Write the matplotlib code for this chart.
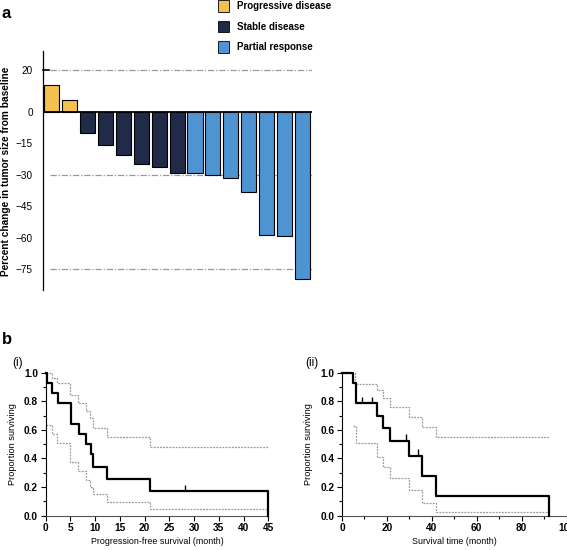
import matplotlib.pyplot as plt
from matplotlib.patches import Rectangle
import numpy as np

plt.rcParams['font.family'] = ['Liberation Sans', 'DejaVu Sans']

# panel a: waterfall
change = [12.6, 5.7, -10.0, -15.6, -20.7, -24.7, -26.4, -29.0, -29.3, -30.3, -31.4, -38.4, -58.9, -59.1, -79.6]
response = ['PD', 'PD', 'SD', 'SD', 'SD', 'SD', 'SD', 'SD', 'PR', 'PR', 'PR', 'PR', 'PR', 'PR', 'PR']
resp_names = {'PD': 'Progressive disease', 'SD': 'Stable disease', 'PR': 'Partial response'}
resp_cols = {'PD': '#F5C04F', 'SD': '#1F2B48', 'PR': '#4E94D2'}
yticks_a = [20, 0, -15, -30, -45, -60, -75]
grid_a = [20, -30, -75]

# panel b(i): progression-free survival
pfs_t = [0, 0.2, 1.2, 2.5, 5.1, 6.7, 8.1, 9.1, 9.5, 12.3, 21.1, 45]
pfs_s = [1.0, 0.929, 0.857, 0.786, 0.643, 0.571, 0.5, 0.429, 0.343, 0.257, 0.171, 0.0]
pfs_cens_t = [28.2]
pfs_cens_s = [0.171]
pfs_ci_t = [0, 1.2, 2.35, 4.9, 6.5, 8.1, 9.0, 9.5, 12.3, 21.1, 45]
pfs_hi = [1.0, 0.963, 0.93, 0.844, 0.79, 0.73, 0.68, 0.615, 0.552, 0.483, 0.483]
pfs_lo = [0.634, 0.571, 0.506, 0.378, 0.312, 0.249, 0.20, 0.149, 0.093, 0.045, 0.045]

# panel b(ii): overall survival
os_t = [0, 4.8, 6.2, 15.4, 18.4, 21.4, 30, 35.5, 41.9, 92]
os_s = [1.0, 0.929, 0.786, 0.699, 0.611, 0.524, 0.419, 0.279, 0.140, 0.0]
os_cens_t = [9.1, 13.5, 28.4, 33.7]
os_cens_s = [0.786, 0.786, 0.524, 0.419]
os_hi_t = [0, 6.0, 15.4, 18.4, 21.4, 30, 35.5, 41.9, 92]
os_hi = [1.0, 0.92, 0.88, 0.82, 0.762, 0.69, 0.62, 0.55, 0.55]
os_lo_t = [5.0, 6.2, 15.4, 18.4, 21.4, 30, 35.5, 41.9, 92]
os_lo = [0.627, 0.506, 0.413, 0.343, 0.26, 0.18, 0.086, 0.025, 0.025]

fig = plt.figure(figsize=(5.67, 5.5), dpi=100)

# ---- a ----
ax = fig.add_axes([0.0753, 0.4727, 0.475, 0.4346])
x = np.arange(len(change))
ax.bar(x, change, width=0.84, color=[resp_cols[r] for r in response],
       edgecolor='black', linewidth=0.8, zorder=3)
for g in grid_a:
    ax.axhline(g, xmin=0.027, xmax=1, color='#999999', lw=0.9, ls=(0, (5, 1.5, 1, 1.5)), zorder=1)
ax.axhline(0, xmin=0.005, xmax=1, color='black', lw=1.3, zorder=4)
ax.plot([-0.51, -0.13], [20, 20], color='black', lw=1.2, clip_on=False)
ax.set_xlim(-0.51, 14.54)
ax.set_ylim(-85, 29)
ax.set_yticks(yticks_a)
ax.tick_params(axis='y', length=0, pad=7, labelsize=7.2)
ax.set_xticks([])
for s in ['top', 'right', 'bottom']:
    ax.spines[s].set_visible(False)
ax.spines['left'].set_linewidth(0.9)
fig.text(0.011, 0.689, 'Percent change in tumor size from baseline', rotation=90,
         ha='center', va='center', fontsize=7.3, fontweight='bold')

# legend
for i, key in enumerate(['PD', 'SD', 'PR']):
    yc = 1 - (6 + 20.5 * i) / 550
    fig.add_artist(Rectangle((218 / 567, yc - 5.5 / 550), 11 / 567, 11 / 550,
                             facecolor=resp_cols[key], edgecolor='black', lw=0.6,
                             transform=fig.transFigure))
    fig.text(237 / 567, yc, resp_names[key], ha='left', va='center',
             fontsize=7.0, fontweight='bold')

fig.text(0.002, 0.976, 'a', fontsize=12, fontweight='bold', ha='left', va='center')
fig.text(0.004, 0.382, 'b', fontsize=12, fontweight='bold', ha='left', va='center')


def km_axes(rect, xmax, xticks, xminor, xlabel):
    a = fig.add_axes(rect)
    a.set_xlim(0, xmax)
    a.set_ylim(0, 1.0)
    a.set_xticks(xticks)
    a.set_xticks(xminor, minor=True)
    a.set_yticks(np.arange(0, 1.01, 0.2))
    a.set_yticks(np.arange(0.1, 1.0, 0.2), minor=True)
    a.set_yticklabels(['0.0', '0.2', '0.4', '0.6', '0.8', '1.0'])
    a.tick_params(which='major', length=3.5, width=0.8, labelsize=7.3, pad=2)
    a.tick_params(which='minor', length=2, width=0.8)
    for t in a.get_xticklabels() + a.get_yticklabels():
        t.set_fontweight('bold')
    for s in ['top', 'right']:
        a.spines[s].set_visible(False)
    a.spines['left'].set_linewidth(0.8)
    a.spines['bottom'].set_linewidth(0.8)
    a.spines['bottom'].set_color('#555555')
    a.set_xlabel(xlabel, fontsize=6.4, labelpad=3)
    a.set_ylabel('Proportion surviving', fontsize=6.6, labelpad=5)
    return a


# ---- b(i) ----
b1 = km_axes([0.0806, 0.0624, 0.3926, 0.26], 45, np.arange(0, 46, 5), [],
             'Progression-free survival (month)')
b1.step(pfs_ci_t, pfs_hi, where='post', color='#9a9a9a', lw=0.9, ls=(0, (1.5, 1)), clip_on=False)
b1.step(pfs_ci_t, pfs_lo, where='post', color='#9a9a9a', lw=0.9, ls=(0, (1.5, 1)), clip_on=False)
b1.step(pfs_t, pfs_s, where='post', color='black', lw=1.6, clip_on=False, zorder=5)
b1.vlines(pfs_cens_t, pfs_cens_s, np.array(pfs_cens_s) + 0.045, color='black', lw=1.0, zorder=5)
fig.text(0.021, 0.34, '(i)', fontsize=8.5, ha='left', va='center')

# ---- b(ii) ----
b2 = km_axes([0.6032, 0.0624, 0.396, 0.26], 100, np.arange(0, 101, 20), np.arange(10, 100, 20),
             'Survival time (month)')
b2.step(os_hi_t, os_hi, where='post', color='#9a9a9a', lw=0.9, ls=(0, (1.5, 1)), clip_on=False)
b2.step(os_lo_t, os_lo, where='post', color='#9a9a9a', lw=0.9, ls=(0, (1.5, 1)), clip_on=False)
b2.step(os_t, os_s, where='post', color='black', lw=1.6, clip_on=False, zorder=5)
b2.vlines(os_cens_t, os_cens_s, np.array(os_cens_s) + 0.045, color='black', lw=1.0, zorder=5)
fig.text(0.538, 0.34, '(ii)', fontsize=8.5, ha='left', va='center')

fig.savefig('out.png', dpi=100)
